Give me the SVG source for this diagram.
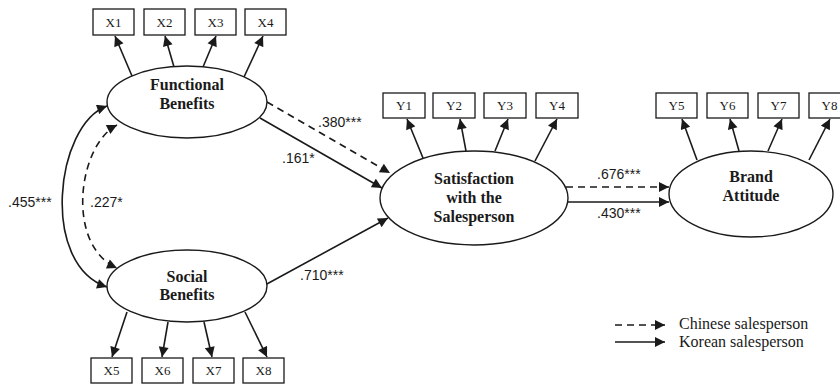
<svg xmlns="http://www.w3.org/2000/svg" width="840" height="389" viewBox="0 0 840 389">
<defs>
<marker id="ah" viewBox="0 0 10 10" refX="10" refY="5" markerWidth="11" markerHeight="10" markerUnits="userSpaceOnUse" orient="auto-start-reverse">
<path d="M0,0 L10,5 L0,10 z" fill="#1a1a1a"/>
</marker>
<style>
.bg{fill:#fff}
.box{fill:#fff;stroke:#1a1a1a;stroke-width:1.3}
.ell{fill:#fff;stroke:#1a1a1a;stroke-width:1.4}
.bt{font-family:"Liberation Serif","Times New Roman",serif;font-size:13px;fill:#1a1a1a;text-anchor:middle}
.nt{font-family:"Liberation Serif","Times New Roman",serif;font-size:16px;font-weight:bold;fill:#1a1a1a;text-anchor:middle}
.lb{font-family:"Liberation Sans",Arial,sans-serif;font-size:14px;fill:#1a1a1a}
.lg{font-family:"Liberation Serif","Times New Roman",serif;font-size:16px;fill:#1a1a1a}
.a{fill:none;stroke:#1a1a1a;stroke-width:1.6;marker-end:url(#ah)}
.d{stroke-dasharray:7,5}
.c2{marker-start:url(#ah)}
</style>
</defs>
<rect class="bg" x="0" y="0" width="840" height="389"/>

<g id="connectors">
<!-- Functional indicators -->
<line class="a" x1="132" y1="76" x2="115" y2="36"/>
<line class="a" x1="174" y1="67" x2="165" y2="36"/>
<line class="a" x1="203" y1="67" x2="216" y2="36"/>
<line class="a" x1="244" y1="77" x2="263" y2="36"/>
<!-- Social indicators -->
<line class="a" x1="127" y1="312" x2="112" y2="357"/>
<line class="a" x1="168" y1="322" x2="162" y2="357"/>
<line class="a" x1="204" y1="322" x2="212" y2="357"/>
<line class="a" x1="245" y1="312" x2="267" y2="357"/>
<!-- Satisfaction indicators -->
<line class="a" x1="423" y1="158" x2="407" y2="119"/>
<line class="a" x1="466" y1="151" x2="460" y2="119"/>
<line class="a" x1="495" y1="151" x2="508" y2="119"/>
<line class="a" x1="535" y1="161" x2="557" y2="119"/>
<!-- Brand indicators -->
<line class="a" x1="697" y1="160" x2="682" y2="119"/>
<line class="a" x1="739" y1="151" x2="730" y2="119"/>
<line class="a" x1="768" y1="151" x2="782" y2="119"/>
<line class="a" x1="809" y1="160" x2="830" y2="119"/>
<!-- correlations -->
<path class="a c2" d="M107,106 C55,125 40,265 107,287"/>
<path class="a c2 d" d="M117,125 C78,145 65,245 117,268"/>
<!-- structural paths -->
<line class="a d" x1="267" y1="102" x2="390" y2="173"/>
<line class="a" x1="260" y1="118" x2="382" y2="188"/>
<line class="a" x1="265" y1="285" x2="388" y2="218"/>
<line class="a d" x1="566" y1="187" x2="669" y2="187"/>
<line class="a" x1="568" y1="202" x2="669" y2="202"/>
<!-- legend -->
<line class="a d" x1="615" y1="325" x2="665" y2="325"/>
<line class="a" x1="615" y1="342" x2="665" y2="342"/>
</g>

<g id="labels">
<text class="lb" x="318" y="127">.380***</text>
<text class="lb" x="282" y="163">.161*</text>
<text class="lb" x="300" y="280">.710***</text>
<text class="lb" x="597" y="179">.676***</text>
<text class="lb" x="597" y="218">.430***</text>
<text class="lb" x="8" y="207">.455***</text>
<text class="lb" x="90" y="207">.227*</text>
</g>

<g id="functional-benefits">
<ellipse class="ell" cx="187" cy="102" rx="80" ry="36"/>
<text class="nt" x="187" y="90">Functional</text>
<text class="nt" x="187" y="109">Benefits</text>
</g>
<g id="social-benefits">
<ellipse class="ell" cx="187" cy="286" rx="80" ry="36"/>
<text class="nt" x="187" y="282">Social</text>
<text class="nt" x="187" y="300">Benefits</text>
</g>
<g id="satisfaction">
<ellipse class="ell" cx="474" cy="198" rx="94" ry="47"/>
<text class="nt" x="474" y="184">Satisfaction</text>
<text class="nt" x="474" y="203">with the</text>
<text class="nt" x="474" y="222">Salesperson</text>
</g>
<g id="brand-attitude">
<ellipse class="ell" cx="751" cy="194" rx="82" ry="43"/>
<text class="nt" x="751" y="182">Brand</text>
<text class="nt" x="751" y="201">Attitude</text>
</g>

<g id="x1"><rect class="box" x="93" y="9" width="41" height="26"/><text class="bt" x="113.5" y="27">X1</text></g>
<g id="x2"><rect class="box" x="144" y="9" width="41" height="26"/><text class="bt" x="164.5" y="27">X2</text></g>
<g id="x3"><rect class="box" x="195" y="9" width="41" height="26"/><text class="bt" x="215.5" y="27">X3</text></g>
<g id="x4"><rect class="box" x="245" y="9" width="41" height="26"/><text class="bt" x="265.5" y="27">X4</text></g>

<g id="x5"><rect class="box" x="91" y="358" width="41" height="25"/><text class="bt" x="111.5" y="375">X5</text></g>
<g id="x6"><rect class="box" x="142" y="358" width="41" height="25"/><text class="bt" x="162.5" y="375">X6</text></g>
<g id="x7"><rect class="box" x="193" y="358" width="41" height="25"/><text class="bt" x="213.5" y="375">X7</text></g>
<g id="x8"><rect class="box" x="243" y="358" width="41" height="25"/><text class="bt" x="263.5" y="375">X8</text></g>

<g id="y1"><rect class="box" x="383" y="93" width="42" height="25"/><text class="bt" x="404" y="110">Y1</text></g>
<g id="y2"><rect class="box" x="433" y="93" width="42" height="25"/><text class="bt" x="454" y="110">Y2</text></g>
<g id="y3"><rect class="box" x="484" y="93" width="42" height="25"/><text class="bt" x="505" y="110">Y3</text></g>
<g id="y4"><rect class="box" x="536" y="93" width="42" height="25"/><text class="bt" x="557" y="110">Y4</text></g>

<g id="y5"><rect class="box" x="656" y="93" width="41" height="25"/><text class="bt" x="676.5" y="110">Y5</text></g>
<g id="y6"><rect class="box" x="707" y="93" width="41" height="25"/><text class="bt" x="727.5" y="110">Y6</text></g>
<g id="y7"><rect class="box" x="758" y="93" width="41" height="25"/><text class="bt" x="778.5" y="110">Y7</text></g>
<g id="y8"><rect class="box" x="809" y="93" width="41" height="25"/><text class="bt" x="829.5" y="110">Y8</text></g>

<g id="legend">
<text class="lg" x="679" y="329">Chinese salesperson</text>
<text class="lg" x="679" y="347">Korean salesperson</text>
</g>
</svg>
